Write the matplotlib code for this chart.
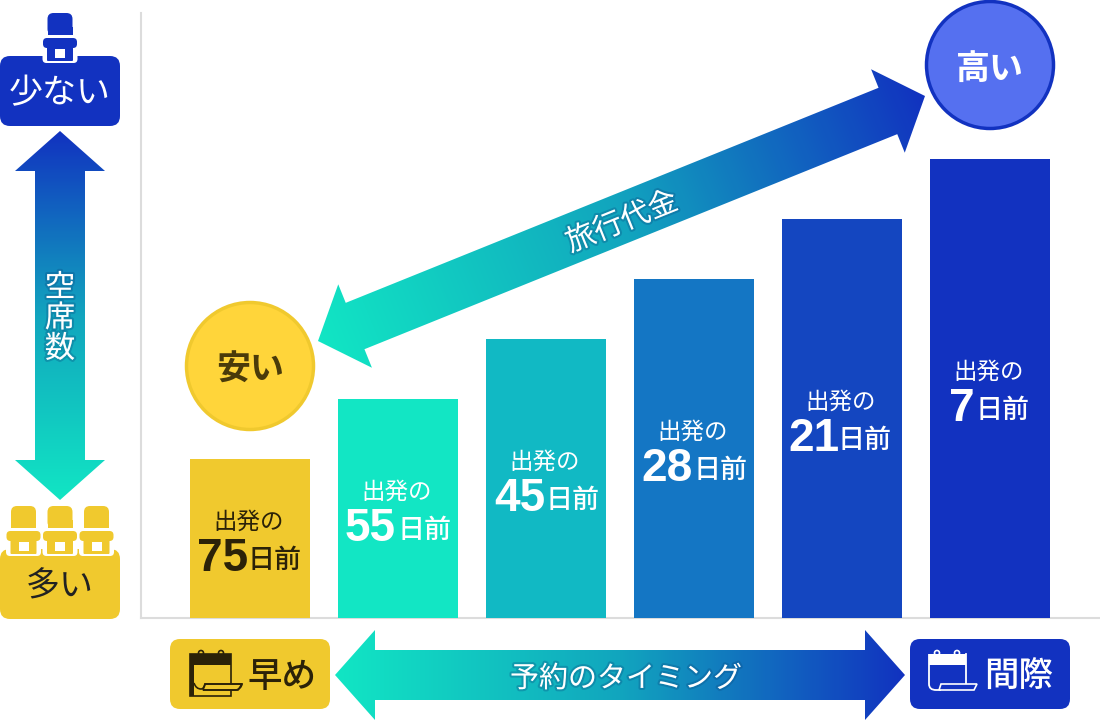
import numpy as np
import matplotlib
matplotlib.use('Agg')
import matplotlib.pyplot as plt
import matplotlib.patheffects as pe
from matplotlib.colors import LinearSegmentedColormap
from matplotlib.patches import Circle, FancyBboxPatch, Polygon, Rectangle, PathPatch
from matplotlib.path import Path

plt.rcParams['font.family'] = ['Noto Sans CJK JP', 'DejaVu Sans']

# bar values (pixels above the baseline)
days = ['75', '55', '45', '28', '21', '7']
bar_heights = [159, 219, 279, 339, 399, 459]
bar_colors = ['#F0C92E', '#12E6C4', '#11B9C4', '#1476C4', '#1446C0', '#1232C0']
text_colors = ['#2B2208', 'white', 'white', 'white', 'white', 'white']
num_right = [248, 396, 545, 693, 839, 975]
kanji_left = [248, 397, 545, 693, 838, 976]

YELLOW = '#F0C92E'
BLUE = '#1232C0'
DARK = '#2B2208'
BASE = 618

grad = LinearSegmentedColormap.from_list('g', ['#12E6C4', '#11A5BE', '#1232C0'])
glow = [pe.withStroke(linewidth=3, foreground='#0A4A80', alpha=0.3)]

fig = plt.figure(figsize=(11, 7.2), dpi=100)
ax = fig.add_axes([0, 0, 1, 1])
ax.set_xlim(0, 1100)
ax.set_ylim(720, 0)
ax.axis('off')


def px(n):
    return n * 0.72


def box(x, y, w, h, color, r=10, z=2):
    ax.add_patch(FancyBboxPatch((x + r, y + r), w - 2 * r, h - 2 * r,
                                boxstyle='round,pad=%d,rounding_size=%d' % (r, r),
                                fc=color, ec='none', zorder=z))


def grad_arrow(teal, blue, shaft, head_w, head_l):
    # double headed arrow, teal end to blue end
    a = np.array(teal, float)
    b = np.array(blue, float)
    d = (b - a) / np.linalg.norm(b - a)
    n = np.array([-d[1], d[0]])
    pts = [a,
           a + d * head_l + n * head_w / 2,
           a + d * head_l + n * shaft / 2,
           b - d * head_l + n * shaft / 2,
           b - d * head_l + n * head_w / 2,
           b,
           b - d * head_l - n * head_w / 2,
           b - d * head_l - n * shaft / 2,
           a + d * head_l - n * shaft / 2,
           a + d * head_l - n * head_w / 2]
    poly = Polygon(pts, closed=True, fc='none', ec='none', zorder=3)
    ax.add_patch(poly)
    X, Y = np.meshgrid(np.arange(0, 1100), np.arange(0, 720))
    t = ((X - a[0]) * d[0] + (Y - a[1]) * d[1]) / np.linalg.norm(b - a)
    im = ax.imshow(np.clip(t, 0, 1), cmap=grad, vmin=0, vmax=1, extent=(0, 1100, 720, 0),
                   aspect='auto', zorder=3)
    im.set_clip_path(poly)


def seat(cx, top, color):
    # back
    ax.add_patch(FancyBboxPatch((cx - 6.5, top + 6), 13, 10,
                                boxstyle='round,pad=6,rounding_size=6', fc=color, ec='none', zorder=4))
    ax.add_patch(Rectangle((cx - 12.5, top + 14), 25, 8, fc=color, ec='none', zorder=4))
    # white outline under the cushion
    box(cx - 17.5, top + 30, 35, 20, 'white', r=4, z=4)
    ax.add_patch(Rectangle((cx - 19, top + 22), 38, 3, fc='white', ec='none', zorder=4))
    # cushion, legs, hole
    box(cx - 17, top + 25, 34, 10, color, r=4, z=5)
    box(cx - 13, top + 30, 26, 18, color, r=1, z=5)
    ax.add_patch(Rectangle((cx - 5, top + 36), 10, 8.5, fc='white', ec='none', zorder=6))


def curve(verts, codes, color, lw=1.3, z=6):
    ax.add_patch(PathPatch(Path(verts, codes), fc='none', ec=color, lw=lw, zorder=z))


# axis lines
ax.plot([141, 141], [13, BASE], color='#DCDCDC', lw=1.5, zorder=1)
ax.plot([141, 1100], [BASE, BASE], color='#DCDCDC', lw=1.5, zorder=1)

# bars
xpos = [250 + 148 * i for i in range(len(days))]
ax.bar(xpos, -np.array(bar_heights), bottom=BASE, width=120, color=bar_colors, zorder=2)
for i in range(len(days)):
    cy = BASE - bar_heights[i] / 2 - 19.5
    ax.text(xpos[i] - 1, cy + 3, '出発の', ha='center', va='center', fontsize=px(23.5),
            color=text_colors[i], zorder=5)
    ax.text(num_right[i], cy + 40, days[i], ha='right', va='center', fontsize=px(46),
            fontweight='bold', family=['Liberation Sans'], color=text_colors[i], zorder=5)
    ax.text(kanji_left[i], cy + 41, '日前', ha='left', va='center', fontsize=px(27),
            fontweight='medium', color=text_colors[i], zorder=5)

# price arrow
grad_arrow((318, 341), (925, 96), 50, 90, 40)
ax.text(622, 222, '旅行代金', rotation=22, rotation_mode='anchor', ha='center', va='center',
        fontsize=px(29.5), color='white', path_effects=glow, zorder=6)

# circles
ax.add_patch(Circle((250, 366), 63.5, fc='#FFD53A', ec=YELLOW, lw=2.5, zorder=4))
ax.text(250, 369, '安い', ha='center', va='center', fontsize=px(34), fontweight='bold', color='#4A3B0A', zorder=5)
ax.add_patch(Circle((990, 65), 63.5, fc='#5570F0', ec=BLUE, lw=2.5, zorder=4))
ax.text(990, 68, '高い', ha='center', va='center', fontsize=px(34), fontweight='bold', color='white', zorder=5)

# seat axis
box(0, 56, 120, 70, BLUE)
seat(60, 13, BLUE)
ax.text(60, 94, '少ない', ha='center', va='center', fontsize=px(34), color='white', zorder=6)
box(0, 549, 120, 70, YELLOW)
for cx in [23.5, 60, 96.5]:
    seat(cx, 506, YELLOW)
ax.text(60, 587, '多い', ha='center', va='center', fontsize=px(34), color='#222222', zorder=6)
grad_arrow((60, 500), (60, 131), 50, 90, 40)
for y, ch in zip([288, 318.5, 349], '空席数'):
    ax.text(60, y, ch, ha='center', va='center', fontsize=px(30.5), color='white', path_effects=glow, zorder=6)

# timing arrow
grad_arrow((335, 675), (905, 675), 50, 90, 40)
ax.text(626, 679, '予約のタイミング', ha='center', va='center', fontsize=px(29), color='white',
        path_effects=glow, zorder=6)

# left button with calendar
box(170, 639, 160, 70, YELLOW)
ax.add_patch(Rectangle((190, 654), 41, 42, fc='none', ec=DARK, lw=1.2, zorder=5))
ax.add_patch(Rectangle((190, 654), 41, 11, fc=DARK, ec='none', zorder=5))
ax.add_patch(Rectangle((190, 654), 4, 42, fc=DARK, ec='none', zorder=5))
for x in [201, 221]:
    ax.add_patch(Circle((x, 653), 2.5, fc='none', ec=DARK, lw=1.2, zorder=5))
curve([(194, 683), (196, 689), (201, 689), (204, 689), (205, 684), (242, 684),
       (241, 689), (236, 690), (231, 690), (203, 690)],
      [Path.MOVETO, Path.CURVE3, Path.CURVE3, Path.CURVE3, Path.CURVE3, Path.LINETO,
       Path.CURVE3, Path.CURVE3, Path.LINETO, Path.LINETO], DARK, lw=1.2)
ax.add_patch(Polygon([(205, 684), (242, 684), (238, 690), (203, 690)], closed=True,
                     fc=YELLOW, ec=DARK, lw=1.2, zorder=5))
ax.text(282, 677, '早め', ha='center', va='center', fontsize=px(34.5), fontweight='medium', color=DARK, zorder=6)

# right button with calendar
box(910, 639, 160, 70, BLUE)
ax.add_patch(Rectangle((929, 654), 37, 11, fc='white', ec='none', zorder=5))
curve([(929, 654), (929, 684), (929, 690), (936, 690), (941, 690)],
      [Path.MOVETO, Path.LINETO, Path.CURVE3, Path.CURVE3, Path.LINETO], 'white')
ax.plot([966, 966], [654, 684], color='white', lw=1.3, zorder=5)
for x in [937, 957]:
    ax.add_patch(Circle((x, 653), 2.5, fc='none', ec='white', lw=1.2, zorder=5))
ax.add_patch(Polygon([(941, 684), (977, 684), (974, 690), (939, 690)], closed=True,
                     fc=BLUE, ec='white', lw=1.2, zorder=6))
ax.text(1019, 677, '間際', ha='center', va='center', fontsize=px(34.5), fontweight='medium', color='white', zorder=6)

ax.set_xlim(0, 1100)
ax.set_ylim(720, 0)
fig.savefig('out.png', dpi=100)
